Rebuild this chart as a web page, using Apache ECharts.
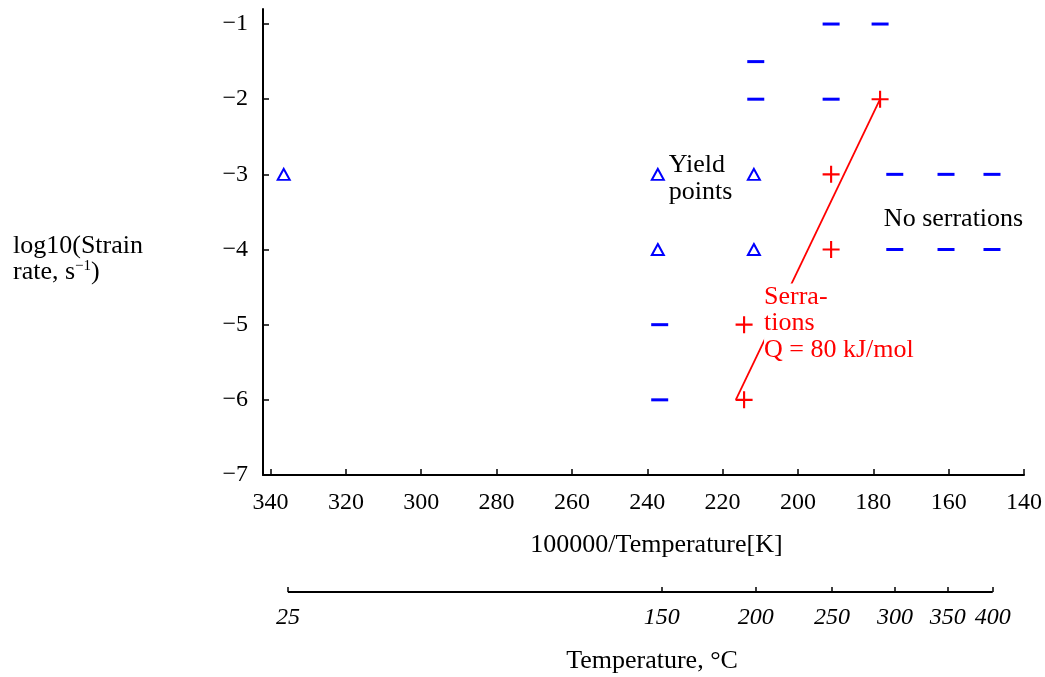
<!DOCTYPE html>
<html>
<head>
<meta charset="utf-8">
<script src="https://cdn.jsdelivr.net/npm/echarts@6/dist/echarts.min.js"></script>
<style>html,body{margin:0;padding:0;background:#fff}#c{width:1045px;height:677px}</style>
</head>
<body>
<div id="c"></div>
<script>
// ---- data ----
const xTicks = [340, 320, 300, 280, 260, 240, 220, 200, 180, 160, 140];
const yTicks = [-7, -6, -5, -4, -3, -2, -1];
const tempTicksC = [25, 150, 200, 250, 300, 350, 400];
const yieldX = [336.5, 237.2, 237.2, 211.7, 211.7];
const yieldY = [-3, -3, -4, -3, -4];
const noSerrX = [191.2, 178.2, 211.2, 211.2, 191.2, 174.3, 160.7, 148.5, 174.3, 160.7, 148.5, 236.7, 236.7];
const noSerrY = [-1, -1, -1.5, -2, -2, -3, -3, -3, -4, -4, -4, -5, -6];
const serrX = [178.2, 191.2, 191.2, 214.3, 214.3];
const serrY = [-2, -3, -4, -5, -6];
const fitX = [216.5, 178.2];
const fitY = [-6, -2];
const notes = [
  { text: 'Yield\npoints', x: 234.3, y: -3.06, color: '#000000' },
  { text: 'No serrations', x: 177.2, y: -3.59, color: '#000000' },
  { text: 'Serra-\ntions\nQ = 80 kJ/mol', x: 209.0, y: -4.98, color: '#ff0000', bg: '#ffffff' }
];

const FONT = '"Liberation Serif", "Times New Roman", serif';
const zip = (a, b) => a.map((v, i) => [v, b[i]]);
const toInvK = c => 100000 / (c + 273.15);

const chart = echarts.init(document.getElementById('c'), null, { renderer: 'canvas' });
chart.setOption({
  animation: false,
  backgroundColor: '#ffffff',
  grid: [
    { left: 263, right: 20, top: 9, height: 466 },
    { left: 263, right: 20, top: 556, height: 36 }
  ],
  xAxis: [
    {
      gridIndex: 0, type: 'value', min: 140, max: 342, inverse: true,
      name: '100000/Temperature[K]', nameLocation: 'middle', nameGap: 57,
      nameTextStyle: { fontFamily: FONT, fontSize: 26, color: '#000', padding: [0, 0, 0, 26] },
      axisLine: { show: true, lineStyle: { color: '#000', width: 2 } },
      axisTick: { show: true, inside: true, length: 6, customValues: xTicks, lineStyle: { color: '#000', width: 1.5 } },
      axisLabel: { customValues: xTicks, fontFamily: FONT, fontSize: 24, color: '#000', margin: 16 },
      splitLine: { show: false }
    },
    {
      gridIndex: 1, type: 'value', min: 140, max: 342, inverse: true,
      name: 'Temperature, °C', nameLocation: 'middle', nameGap: 56,
      nameTextStyle: { fontFamily: FONT, fontSize: 26, color: '#000', padding: [0, 0, 0, 16] },
      axisLine: { show: false },
      axisTick: { show: true, inside: true, length: 5, customValues: tempTicksC.map(toInvK), lineStyle: { color: '#000', width: 1.5 } },
      axisLabel: {
        customValues: tempTicksC.map(toInvK), fontFamily: FONT, fontSize: 24, fontStyle: 'italic', color: '#000', margin: 14,
        formatter: v => String(Math.round(100000 / v - 273.15))
      },
      splitLine: { show: false }
    }
  ],
  yAxis: [
    {
      gridIndex: 0, type: 'value', min: -7, max: -0.8,
      name: 'log10(Strain\nrate, s{sup|−1})', nameLocation: 'middle', nameRotate: 0, nameGap: 250,
      nameTextStyle: {
        fontFamily: FONT, fontSize: 26, color: '#000', align: 'left', lineHeight: 26, padding: [34, 0, 0, 0],
        rich: { sup: { fontFamily: FONT, fontSize: 15, color: '#000', verticalAlign: 'bottom', padding: [0, 0, 11, 0] } }
      },
      axisLine: { show: true, onZero: false, lineStyle: { color: '#000', width: 2 } },
      axisTick: { show: true, inside: true, length: 6, customValues: yTicks, lineStyle: { color: '#000', width: 1.5 } },
      axisLabel: {
        customValues: yTicks, fontFamily: FONT, fontSize: 24, color: '#000', margin: 15,
        formatter: v => (v < 0 ? '\u2212' : '') + Math.abs(v)
      },
      splitLine: { show: false }
    },
    { gridIndex: 1, type: 'value', min: 0, max: 1, show: false }
  ],
  series: [
    {
      type: 'line', xAxisIndex: 1, yAxisIndex: 1, symbol: 'none', silent: true,
      data: [[toInvK(tempTicksC[0]), 0], [toInvK(tempTicksC[tempTicksC.length - 1]), 0]],
      lineStyle: { color: '#000', width: 2 }
    },
    {
      type: 'line', xAxisIndex: 0, yAxisIndex: 0, symbol: 'none', z: 2,
      data: zip(fitX, fitY), lineStyle: { color: '#ff0000', width: 1.8 }
    },
    {
      type: 'scatter', symbol: 'triangle', symbolSize: [12, 11], z: 3,
      data: zip(yieldX, yieldY),
      itemStyle: { color: 'rgba(0,0,0,0)', borderColor: '#0000ff', borderWidth: 2, opacity: 1 }
    },
    {
      type: 'scatter', symbol: 'rect', symbolSize: [17, 3], z: 3,
      data: zip(noSerrX, noSerrY),
      itemStyle: { color: '#0000ff', opacity: 1 }
    },
    {
      type: 'scatter', symbol: 'path://M7,0H9V7H16V9H9V16H7V9H0V7H7Z', symbolSize: 17, z: 3,
      data: zip(serrX, serrY),
      itemStyle: { color: '#ff0000', opacity: 1 }
    },
    {
      type: 'scatter', symbolSize: 0, z: 10, silent: true,
      itemStyle: { opacity: 1 },
      data: notes.map(n => ({
        value: [n.x, n.y],
        label: {
          show: true, position: [0, 0], align: 'left', verticalAlign: 'middle', opacity: 1,
          formatter: n.text, color: n.color, fontFamily: FONT, fontSize: 26, lineHeight: 26.5,
          backgroundColor: n.bg || 'transparent'
        }
      }))
    }
  ]
});
</script>
</body>
</html>
